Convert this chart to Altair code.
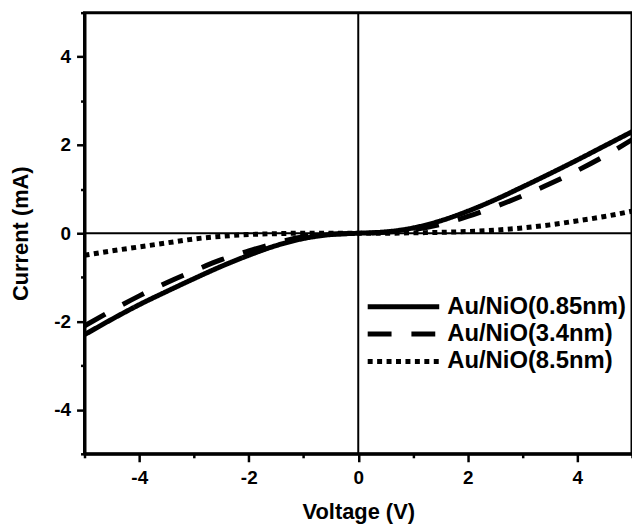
import altair as alt
import pandas as pd

voltage = [-5, -4.5, -4, -3.5, -3, -2.5, -2, -1.5, -1, -0.5, 0, 0.5, 1, 1.5, 2, 2.5, 3, 3.5, 4, 4.5, 5]
cur_085 = [-2.3, -1.95, -1.62, -1.32, -1.03, -0.75, -0.5, -0.28, -0.12, -0.03, 0, 0.03, 0.12, 0.28, 0.5, 0.76, 1.05, 1.35, 1.66, 1.98, 2.3]
cur_34 = [-2.1, -1.75, -1.42, -1.12, -0.85, -0.6, -0.4, -0.22, -0.08, -0.02, 0, 0.02, 0.08, 0.2, 0.38, 0.6, 0.85, 1.12, 1.42, 1.75, 2.12]
cur_85 = [-0.5, -0.4, -0.31, -0.22, -0.13, -0.07, -0.03, -0.01, 0, 0, 0, 0, 0.01, 0.02, 0.04, 0.07, 0.12, 0.19, 0.28, 0.38, 0.5]
series = ["Au/NiO(0.85nm)", "Au/NiO(3.4nm)", "Au/NiO(8.5nm)"]
tick_vals = [-5, -4, -3, -2, -1, 0, 1, 2, 3, 4, 5]

rows = []
for name, vals in zip(series, [cur_085, cur_34, cur_85]):
    for i, (v, c) in enumerate(zip(voltage, vals)):
        rows.append({"V": v, "I": c, "series": name, "order": i})
df = pd.DataFrame(rows)

FONT = "Liberation Sans"

xscale = alt.Scale(domain=[-5, 5], nice=False, zero=False)
yscale = alt.Scale(domain=[-5, 5], nice=False, zero=False)

tick_cond = {"condition": {"test": "datum.value % 2 !== 0", "value": 4}, "value": 8}
label_expr = "datum.value % 2 === 0 ? '' + datum.value : ''"

xaxis = alt.Axis(values=tick_vals, title="Voltage (V)", grid=False,
                 labelExpr=label_expr,
                 tickSize=tick_cond, tickWidth=2.5, tickColor="black",
                 domainColor="black", domainWidth=3,
                 labelFont=FONT, labelFontSize=19, labelFontWeight="bold", labelColor="black",
                 labelPadding=7, labelFlush=False,
                 titleFont=FONT, titleFontSize=22, titleFontWeight="bold", titleColor="black",
                 titlePadding=14)
yaxis = alt.Axis(values=tick_vals, title="Current (mA)", grid=False,
                 labelExpr=label_expr,
                 tickSize=tick_cond, tickWidth=2.5, tickColor="black",
                 domainColor="black", domainWidth=3,
                 labelFont=FONT, labelFontSize=19, labelFontWeight="bold", labelColor="black",
                 labelPadding=6, labelFlush=False,
                 titleFont=FONT, titleFontSize=22, titleFontWeight="bold", titleColor="black",
                 titlePadding=21)

lines = alt.Chart(df).mark_line(strokeWidth=5, color="black", interpolate="monotone").encode(
    x=alt.X("V:Q", scale=xscale, axis=xaxis),
    y=alt.Y("I:Q", scale=yscale, axis=yaxis),
    order="order:Q",
    strokeDash=alt.StrokeDash(
        "series:N",
        scale=alt.Scale(domain=series, range=[[1, 0], [24, 20], [5, 4.5]]),
        legend=alt.Legend(
            title=None, orient="none", legendX=309, legendY=284, padding=0,
            symbolType="M-4,0H4", symbolSize=324, symbolStrokeWidth=5,
            symbolStrokeColor="black", symbolFillColor="transparent",
            rowPadding=3.5, labelOffset=32,
            labelFont=FONT, labelFontSize=24, labelFontWeight="bold", labelColor="black",
            labelLimit=300,
        ),
    ),
)

zero_df = pd.DataFrame({"z": [0]})
vline = alt.Chart(zero_df).mark_rule(color="black", strokeWidth=2).encode(x=alt.X("z:Q", scale=xscale))
hline = alt.Chart(zero_df).mark_rule(color="black", strokeWidth=2).encode(y=alt.Y("z:Q", scale=yscale))

chart = alt.layer(vline, hline, lines).properties(
    width=551, height=444,
    autosize=alt.AutoSizeParams(type="none"),
    padding={"left": 77, "top": 3, "right": 0, "bottom": 76},
    background="white",
).configure_view(stroke="black", strokeWidth=3)

chart.save("out.html", embed_options={"renderer": "svg", "actions": False})
